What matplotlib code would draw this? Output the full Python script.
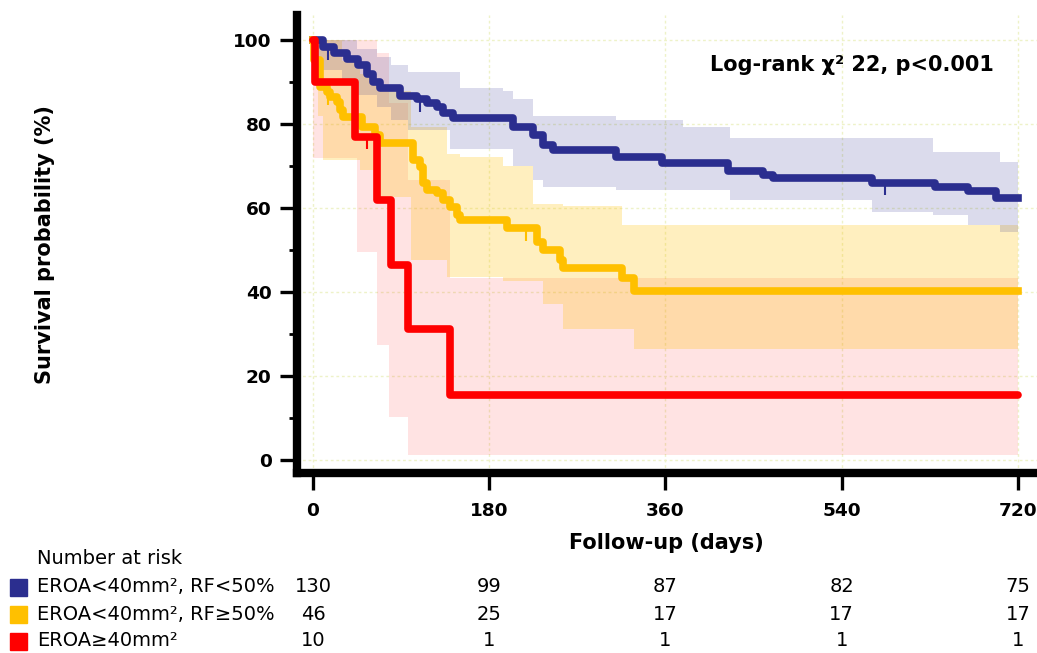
import numpy as np
import matplotlib.pyplot as plt
from matplotlib.patches import Rectangle
from matplotlib.transforms import blended_transform_factory

# Kaplan-Meier steps (days, survival %)
blue_t = [0, 10, 22, 35, 46, 55, 61, 68, 89, 106, 116, 127, 133, 143, 204, 225,
          235, 245, 310, 356, 424, 460, 470, 571, 635, 669, 698, 720]
blue_s = [100, 98.3, 97, 95.5, 94, 92, 90, 88.5, 86.6, 85.9, 85, 84, 82.7, 81.5,
          79.4, 77.5, 75, 73.9, 72.2, 70.7, 68.8, 67.9, 67.1, 66, 65, 64, 62.3, 62.3]
blue_ci_t = [0, 10, 30, 45, 55, 65, 80, 97, 140, 150, 194, 204, 225, 235, 310,
             378, 426, 571, 633, 669, 702, 720]
blue_hi = [100, 100, 100, 98, 98, 96, 94, 92.5, 92.5, 88.7, 87.8, 86, 82, 82, 81,
           79.4, 76.7, 76.7, 73.4, 73.4, 71, 71]
blue_lo = [96, 93, 90, 87, 87, 84, 81, 78.6, 74, 74, 74, 70, 66.7, 65, 64.3,
           64.3, 61.9, 59, 58.3, 55.9, 54.2, 54.2]

yel_t = [0, 1, 7, 14, 17, 25, 28, 31, 50, 63, 68, 102, 109, 112, 116, 127, 133,
         140, 147, 150, 198, 229, 235, 252, 255, 316, 328, 720]
yel_s = [100, 95.2, 88.8, 87.6, 86.4, 85.2, 83.3, 81.7, 79.3, 77.4, 75.5, 71.4,
         69.8, 66, 64.3, 63.6, 61.9, 60.2, 58.3, 57.1, 55.2, 51.9, 50, 47.6, 45.7,
         43.3, 40.2, 40.2]
yel_ci_t = [0, 5, 10, 30, 48, 65, 100, 137, 150, 194, 225, 235, 255, 316, 328, 720]
yel_hi = [100, 100, 100, 95, 92, 88, 79.3, 73, 72.2, 70, 61, 61, 60.4, 55.9, 55.9, 55.9]
yel_lo = [100, 82, 71.4, 71.4, 69, 62.6, 47.6, 43.6, 43.6, 42.7, 42.7, 37.2, 31.2,
          31.2, 26.4, 26.4]

red_t = [0, 2, 43, 65, 80, 97, 140, 720]
red_s = [100, 90, 76.9, 61.9, 46.4, 31.2, 15.4, 15.4]
red_ci_t = [0, 2, 45, 65, 78, 97, 140, 720]
red_hi = [100, 100, 100, 97, 85, 66.7, 43.4, 43.4]
red_lo = [72, 72, 49.5, 27.4, 10.2, 1.2, 1.2, 1.2]

# censoring marks
blue_cens = [15, 109, 584]
yel_cens = [15, 218]
red_cens = [55]

# number at risk
risk_days = [0, 180, 360, 540, 720]
risk_blue = [130, 99, 87, 82, 75]
risk_yel = [46, 25, 17, 17, 17]
risk_red = [10, 1, 1, 1, 1]

labels = ['EROA<40mm², RF<50%', 'EROA<40mm², RF≥50%', 'EROA≥40mm²']
c_blue, c_yel, c_red = '#2B2E8F', '#FFC000', '#FF0000'


def surv_at(t, times, surv):
    i = np.searchsorted(times, t, side='right') - 1
    return np.asarray(surv)[i]


W, H = 1037, 653
fig = plt.figure(figsize=(W / 100, H / 100), dpi=100)
ax = fig.add_axes([296.7 / W, (H - 472.5) / H, (W - 296.7) / W, (472.5 - 15) / H])

# confidence bands
ax.fill_between(red_ci_t, red_lo, red_hi, step='post', color=c_red, alpha=0.11, lw=0)
ax.fill_between(yel_ci_t, yel_lo, yel_hi, step='post', color=c_yel, alpha=0.25, lw=0)
ax.fill_between(blue_ci_t, blue_lo, blue_hi, step='post', color=c_blue, alpha=0.17, lw=0)

# survival curves
ax.step(blue_t, blue_s, where='post', color=c_blue, lw=5.5, zorder=3)
ax.step(yel_t, yel_s, where='post', color=c_yel, lw=5.5, zorder=3)
ax.step(red_t, red_s, where='post', color=c_red, lw=5.5, zorder=4,
        solid_capstyle='round')

for cens, t, s, c in [(blue_cens, blue_t, blue_s, c_blue),
                      (yel_cens, yel_t, yel_s, c_yel),
                      (red_cens, red_t, red_s, c_red)]:
    ax.plot(cens, [surv_at(x, t, s) - 1.5 for x in cens], ls='none', marker='|',
            ms=9, mew=1.5, color=c, zorder=5)

ax.set_xlim(-16.6, 739.5)
ax.set_ylim(-3, 106)
ax.set_xticks(risk_days)
ax.set_yticks([0, 20, 40, 60, 80, 100])
ax.set_yticks([10, 30, 50, 70, 90], minor=True)
ax.grid(True, which='major', color='#eef2c8', lw=1, ls=(0, (2, 2)))
ax.set_axisbelow(True)

for side in ['top', 'right']:
    ax.spines[side].set_visible(False)
for side in ['left', 'bottom']:
    ax.spines[side].set_linewidth(6)

ax.tick_params(axis='both', which='major', direction='out', length=12, width=2.4,
               labelsize=13.3)
ax.tick_params(axis='y', which='major', pad=6)
ax.tick_params(axis='x', which='major', pad=9)
ax.tick_params(axis='y', which='minor', direction='out', length=6, width=2)
for lab in ax.get_xticklabels() + ax.get_yticklabels():
    lab.set_fontweight('bold')

ax.set_xlabel('Follow-up (days)', fontsize=15, fontweight='bold')
ax.xaxis.set_label_coords((666 - 296.7) / (W - 296.7), (472.5 - 543) / 457.5)
ax.xaxis.label.set_va('center')
ax.set_ylabel('Survival probability (%)', fontsize=15, fontweight='bold')
ax.yaxis.set_label_coords((45 - 296.7) / (W - 296.7), (472.5 - 245) / 457.5)
ax.yaxis.label.set_va('center')

ax.text(550.6, 94.0, 'Log-rank χ² 22, p<0.001', ha='center', va='center',
        fontsize=15, fontweight='bold')

# number at risk table
trans = blended_transform_factory(ax.transData, fig.transFigure)
fig.text(37 / W, 1 - 558 / H, 'Number at risk', fontsize=14, va='center')
rows_y = [587, 614, 641]
for y, lab, col, counts in zip(rows_y, labels, [c_blue, c_yel, c_red],
                               [risk_blue, risk_yel, risk_red]):
    fig.add_artist(Rectangle((10 / W, 1 - (y + 8.5) / H), 17 / W, 17 / H,
                             transform=fig.transFigure, color=col))
    fig.text(37 / W, 1 - y / H, lab, fontsize=14, va='center')
    for d, n in zip(risk_days, counts):
        ax.text(d, 1 - y / H, str(n), transform=trans, ha='center', va='center',
                fontsize=14, clip_on=False)

fig.savefig('out.png', dpi=100)
